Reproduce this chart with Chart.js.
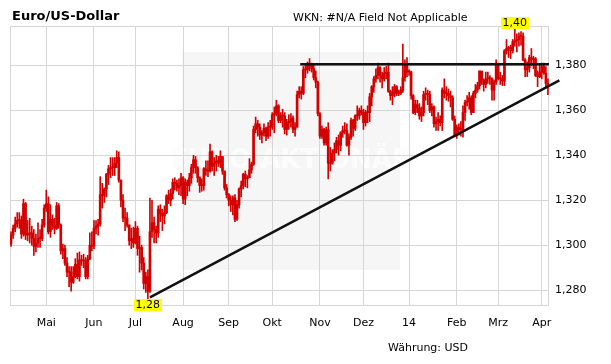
<!DOCTYPE html>
<html>
<head>
<meta charset="utf-8">
<script src="https://cdn.jsdelivr.net/npm/chart.js@4.4.1/dist/chart.umd.min.js"></script>
<style>
  html, body { margin: 0; padding: 0; background: #fff; }
  #wrap { width: 611px; height: 364px; }
</style>
</head>
<body>
<div id="wrap"><canvas id="chart" width="611" height="364"></canvas></div>
<script>
// trading days from 8 Apr 2013 (index 0) to 4 Apr 2014 (index 259)
const monthTicks = [17, 40, 60, 83, 105, 126, 149, 170, 192, 215, 235, 256];
const monthLabels = ['Mai', 'Jun', 'Jul', 'Aug', 'Sep', 'Okt', 'Nov', 'Dez', '14', 'Feb', 'Mrz', 'Apr'];
const yTicks = [1.28, 1.30, 1.32, 1.34, 1.36, 1.38];

const firstOpen = 1.3005;
const closes = [
  1.3045,1.3075,1.3095,1.3110,1.3110,1.3050,1.3185,1.3045,1.3050,1.3055,
  1.3030,1.2995,1.3010,1.3030,1.3030,1.3090,1.3165,1.3185,1.3060,1.3115,
  1.3090,1.3075,1.3175,1.3090,1.2975,1.2985,1.2920,1.2880,1.2880,1.2835,
  1.2860,1.2915,1.2860,1.2935,1.2930,1.2930,1.2860,1.2940,1.3000,1.2995,
  1.3075,1.3085,1.3095,1.3225,1.3220,1.3250,1.3315,1.3340,1.3345,1.3345,
  1.3365,1.3390,1.3290,1.3200,1.3120,1.3120,1.3090,1.3020,1.3030,1.3010,
  1.3075,1.2985,1.2990,1.2920,1.2830,1.2860,1.2795,1.3060,1.3100,1.3070,
  1.3055,1.3160,1.3140,1.3130,1.3145,1.3220,1.3200,1.3230,1.3280,1.3275,
  1.3255,1.3265,1.3300,1.3205,1.3280,1.3265,1.3300,1.3345,1.3380,1.3345,
  1.3300,1.3265,1.3265,1.3340,1.3330,1.3330,1.3415,1.3350,1.3365,1.3375,
  1.3365,1.3395,1.3330,1.3255,1.3225,1.3200,1.3180,1.3210,1.3115,1.3180,
  1.3250,1.3265,1.3315,1.3295,1.3300,1.3335,1.3360,1.3515,1.3540,1.3525,
  1.3490,1.3500,1.3520,1.3485,1.3525,1.3525,1.3580,1.3585,1.3620,1.3555,
  1.3575,1.3575,1.3515,1.3545,1.3550,1.3565,1.3515,1.3525,1.3670,1.3685,
  1.3675,1.3780,1.3780,1.3800,1.3805,1.3785,1.3745,1.3725,1.3585,1.3485,
  1.3515,1.3455,1.3515,1.3365,1.3365,1.3410,1.3425,1.3465,1.3445,1.3500,
  1.3510,1.3510,1.3445,1.3480,1.3555,1.3520,1.3575,1.3575,1.3600,1.3590,
  1.3545,1.3590,1.3590,1.3660,1.3705,1.3740,1.3755,1.3790,1.3755,1.3740,
  1.3765,1.3770,1.3685,1.3665,1.3675,1.3705,1.3675,1.3675,1.3690,1.3745,
  1.3800,1.3770,1.3770,1.3665,1.3590,1.3625,1.3610,1.3575,1.3590,1.3670,
  1.3675,1.3670,1.3600,1.3615,1.3540,1.3550,1.3560,1.3545,1.3690,1.3675,
  1.3675,1.3665,1.3655,1.3560,1.3490,1.3525,1.3515,1.3515,1.3590,1.3635,
  1.3640,1.3655,1.3590,1.3675,1.3690,1.3710,1.3775,1.3735,1.3715,1.3740,
  1.3740,1.3740,1.3690,1.3725,1.3805,1.3740,1.3740,1.3730,1.3865,1.3875,
  1.3880,1.3865,1.3905,1.3910,1.3915,1.3930,1.3930,1.3825,1.3780,1.3790,
  1.3835,1.3825,1.3830,1.3755,1.3750,1.3770,1.3795,1.3765,1.3720,1.3705
];
const highs = [
  1.3060,1.3090,1.3125,1.3145,1.3145,1.3130,1.3205,1.3190,1.3110,1.3120,
  1.3085,1.3070,1.3050,1.3100,1.3070,1.3115,1.3180,1.3245,1.3215,1.3180,
  1.3135,1.3120,1.3190,1.3185,1.3095,1.3005,1.3000,1.2945,1.2905,1.2905,
  1.2905,1.2940,1.2965,1.2970,1.2955,1.2960,1.2945,1.2955,1.3055,1.3060,
  1.3110,1.3110,1.3115,1.3305,1.3275,1.3255,1.3320,1.3355,1.3390,1.3390,
  1.3390,1.3420,1.3415,1.3290,1.3225,1.3165,1.3145,1.3090,1.3075,1.3080,
  1.3105,1.3085,1.3040,1.3000,1.2945,1.2880,1.2890,1.3210,1.3200,1.3125,
  1.3085,1.3175,1.3180,1.3160,1.3175,1.3225,1.3245,1.3250,1.3295,1.3300,
  1.3290,1.3295,1.3320,1.3305,1.3295,1.3290,1.3320,1.3360,1.3400,1.3395,
  1.3350,1.3305,1.3295,1.3345,1.3375,1.3375,1.3450,1.3420,1.3390,1.3400,
  1.3395,1.3420,1.3390,1.3330,1.3270,1.3230,1.3220,1.3220,1.3225,1.3200,
  1.3255,1.3285,1.3320,1.3330,1.3310,1.3385,1.3370,1.3530,1.3570,1.3555,
  1.3540,1.3510,1.3540,1.3525,1.3545,1.3555,1.3590,1.3615,1.3645,1.3625,
  1.3590,1.3605,1.3590,1.3560,1.3580,1.3585,1.3575,1.3545,1.3685,1.3705,
  1.3705,1.3795,1.3800,1.3815,1.3830,1.3810,1.3800,1.3775,1.3730,1.3590,
  1.3530,1.3520,1.3525,1.3545,1.3435,1.3425,1.3455,1.3480,1.3490,1.3505,
  1.3530,1.3545,1.3540,1.3495,1.3565,1.3560,1.3580,1.3620,1.3610,1.3620,
  1.3605,1.3600,1.3620,1.3675,1.3710,1.3750,1.3785,1.3810,1.3795,1.3770,
  1.3790,1.3795,1.3810,1.3690,1.3705,1.3715,1.3710,1.3690,1.3705,1.3895,
  1.3825,1.3835,1.3780,1.3775,1.3670,1.3645,1.3645,1.3630,1.3615,1.3685,
  1.3700,1.3690,1.3685,1.3630,1.3620,1.3570,1.3590,1.3575,1.3700,1.3740,
  1.3705,1.3695,1.3685,1.3665,1.3575,1.3535,1.3540,1.3550,1.3620,1.3645,
  1.3665,1.3680,1.3665,1.3685,1.3715,1.3725,1.3775,1.3770,1.3740,1.3770,
  1.3770,1.3755,1.3745,1.3735,1.3825,1.3810,1.3770,1.3755,1.3870,1.3915,
  1.3885,1.3890,1.3915,1.3965,1.3940,1.3945,1.3950,1.3945,1.3830,1.3815,
  1.3845,1.3875,1.3840,1.3835,1.3775,1.3805,1.3810,1.3810,1.3795,1.3740
];
const lows = [
  1.2995,1.3030,1.3060,1.3080,1.3075,1.3030,1.3040,1.3025,1.3020,1.3010,
  1.3000,1.2955,1.2970,1.2990,1.2990,1.3020,1.3080,1.3150,1.3050,1.3035,
  1.3070,1.3050,1.3070,1.3075,1.2960,1.2940,1.2910,1.2860,1.2815,1.2795,
  1.2830,1.2855,1.2850,1.2840,1.2910,1.2900,1.2850,1.2850,1.2935,1.2975,
  1.2985,1.3050,1.3045,1.3085,1.3165,1.3190,1.3215,1.3270,1.3300,1.3310,
  1.3310,1.3345,1.3280,1.3170,1.3105,1.3065,1.3080,1.3000,1.2985,1.2990,
  1.3005,1.2955,1.2880,1.2890,1.2805,1.2790,1.2755,1.2790,1.3035,1.3010,
  1.3010,1.3035,1.3105,1.3065,1.3095,1.3140,1.3185,1.3175,1.3205,1.3245,
  1.3240,1.3225,1.3220,1.3185,1.3180,1.3220,1.3240,1.3275,1.3320,1.3320,
  1.3280,1.3235,1.3240,1.3245,1.3310,1.3305,1.3325,1.3330,1.3310,1.3330,
  1.3350,1.3345,1.3315,1.3245,1.3210,1.3175,1.3150,1.3135,1.3105,1.3110,
  1.3165,1.3215,1.3250,1.3260,1.3255,1.3315,1.3320,1.3355,1.3500,1.3485,
  1.3470,1.3455,1.3485,1.3465,1.3475,1.3485,1.3515,1.3500,1.3575,1.3545,
  1.3545,1.3525,1.3495,1.3490,1.3515,1.3525,1.3500,1.3485,1.3525,1.3655,
  1.3650,1.3670,1.3745,1.3765,1.3775,1.3770,1.3735,1.3700,1.3575,1.3475,
  1.3475,1.3445,1.3445,1.3295,1.3330,1.3360,1.3375,1.3410,1.3400,1.3420,
  1.3480,1.3495,1.3440,1.3400,1.3470,1.3485,1.3510,1.3555,1.3560,1.3580,
  1.3515,1.3530,1.3545,1.3550,1.3620,1.3680,1.3725,1.3740,1.3725,1.3700,
  1.3730,1.3740,1.3680,1.3645,1.3625,1.3660,1.3665,1.3665,1.3670,1.3680,
  1.3730,1.3750,1.3755,1.3650,1.3585,1.3580,1.3590,1.3560,1.3550,1.3575,
  1.3645,1.3625,1.3590,1.3575,1.3525,1.3510,1.3510,1.3530,1.3510,1.3655,
  1.3645,1.3640,1.3615,1.3555,1.3485,1.3475,1.3490,1.3485,1.3480,1.3555,
  1.3620,1.3605,1.3580,1.3590,1.3655,1.3680,1.3695,1.3715,1.3685,1.3700,
  1.3720,1.3715,1.3645,1.3645,1.3715,1.3735,1.3715,1.3710,1.3710,1.3850,
  1.3835,1.3830,1.3855,1.3885,1.3860,1.3885,1.3890,1.3820,1.3750,1.3750,
  1.3770,1.3800,1.3785,1.3750,1.3705,1.3745,1.3740,1.3760,1.3700,1.3670
];

// trend lines (trading-day index, price)
const resistanceLine = [{ x: 139.5, y: 1.3805 }, { x: 259.5, y: 1.3805 }];
const supportLine = [{ x: 67.0, y: 1.2768 }, { x: 264.5, y: 1.3733 }];

const RED = '#d40000';
const FONT = '"DejaVu Sans", Verdana, sans-serif';
const fmt = (v, d) => v.toFixed(d).replace('.', ',');

const wicks = closes.map((c, i) => ({ x: i, y: [lows[i], highs[i]] }));
const bodies = closes.map((c, i) => ({ x: i, y: [i ? closes[i - 1] : firstOpen, c] }));

const decor = {
  id: 'decor',
  beforeDraw(chart) {
    const ctx = chart.ctx;
    ctx.save();
    ctx.fillStyle = '#fff';
    ctx.fillRect(0, 0, chart.width, chart.height);
    // watermark
    ctx.fillStyle = '#f6f6f6';
    ctx.fillRect(182, 52, 218, 218);
    ctx.fillStyle = '#fcfcfc';
    ctx.font = 'bold 26px ' + FONT;
    ctx.textAlign = 'center';
    ctx.textBaseline = 'middle';
    ctx.fillText('EURO AKTIONÄR', 291, 161);
    ctx.restore();
  },
  beforeDatasetsDraw(chart) {
    const { ctx, chartArea: a } = chart;
    ctx.save();
    ctx.strokeStyle = '#d6d6d6';
    ctx.lineWidth = 1;
    ctx.strokeRect(Math.round(a.left) + 0.5, Math.round(a.top) + 0.5,
      Math.round(a.right - a.left) - 1, Math.round(a.bottom - a.top));
    ctx.restore();
  },
  afterDraw(chart) {
    const ctx = chart.ctx;
    const xs = chart.scales.x, ys = chart.scales.y;
    ctx.save();
    ctx.fillStyle = '#000';
    ctx.textBaseline = 'alphabetic';
    ctx.font = 'bold 13px ' + FONT;
    ctx.fillText('Euro/US-Dollar', 12, 20);
    ctx.font = '11px ' + FONT;
    ctx.fillText('WKN: #N/A Field Not Applicable', 293, 21);
    ctx.fillText('Währung: USD', 388, 351);

    // min / max markers
    let iMin = 0, iMax = 0;
    lows.forEach((v, i) => { if (v < lows[iMin]) iMin = i; });
    highs.forEach((v, i) => { if (v > highs[iMax]) iMax = i; });
    const tag = (txt, cx, top) => {
      ctx.font = '11px ' + FONT;
      const w = ctx.measureText(txt).width + 4;
      ctx.fillStyle = '#ffff00';
      ctx.fillRect(Math.round(cx - w / 2), top, Math.round(w), 12);
      ctx.fillStyle = '#000';
      ctx.textAlign = 'center';
      ctx.textBaseline = 'middle';
      ctx.fillText(txt, cx, top + 6.5);
    };
    tag(fmt(lows[iMin], 2), xs.getPixelForValue(iMin), Math.round(ys.getPixelForValue(lows[iMin])) - 1);
    tag(fmt(highs[iMax], 2), xs.getPixelForValue(iMax), Math.round(ys.getPixelForValue(highs[iMax])) - 11);
    ctx.restore();
  }
};

new Chart(document.getElementById('chart'), {
  data: {
    datasets: [
      { type: 'bar', data: wicks, backgroundColor: RED, barThickness: 1, grouped: false, order: 3 },
      { type: 'bar', data: bodies, backgroundColor: RED, barThickness: 2, grouped: false, order: 2, minBarLength: 1 },
      { type: 'line', data: resistanceLine, borderColor: '#111', borderWidth: 2.5, pointRadius: 0, order: 1 },
      { type: 'line', data: supportLine, borderColor: '#111', borderWidth: 2.5, pointRadius: 0, order: 0, clip: false }
    ]
  },
  options: {
    responsive: false,
    animation: false,
    layout: { padding: { left: 10, top: 26, right: 0, bottom: 0 } },
    plugins: { legend: { display: false }, tooltip: { enabled: false } },
    scales: {
      x: {
        type: 'linear',
        min: -0.5,
        max: 259.5,
        offset: false,
        afterBuildTicks: (axis) => { axis.ticks = monthTicks.map(v => ({ value: v })); },
        afterFit: (axis) => { axis.height = 59; },
        grid: { color: '#d6d6d6', drawTicks: false, offset: false },
        border: { display: false },
        ticks: {
          autoSkip: false,
          maxRotation: 0,
          padding: 12,
          color: '#000',
          font: { family: FONT, size: 11 },
          callback: (v) => monthLabels[monthTicks.indexOf(v)]
        }
      },
      y: {
        position: 'right',
        min: 1.2734,
        max: 1.3975,
        afterBuildTicks: (axis) => { axis.ticks = yTicks.map(v => ({ value: v })); },
        afterFit: (axis) => { axis.width = 62; },
        grid: { color: '#d6d6d6', drawTicks: false },
        border: { display: false },
        ticks: {
          padding: 6,
          color: '#000',
          font: { family: FONT, size: 11 },
          callback: (v) => fmt(v, 3)
        }
      }
    }
  },
  plugins: [decor]
});
</script>
</body>
</html>
